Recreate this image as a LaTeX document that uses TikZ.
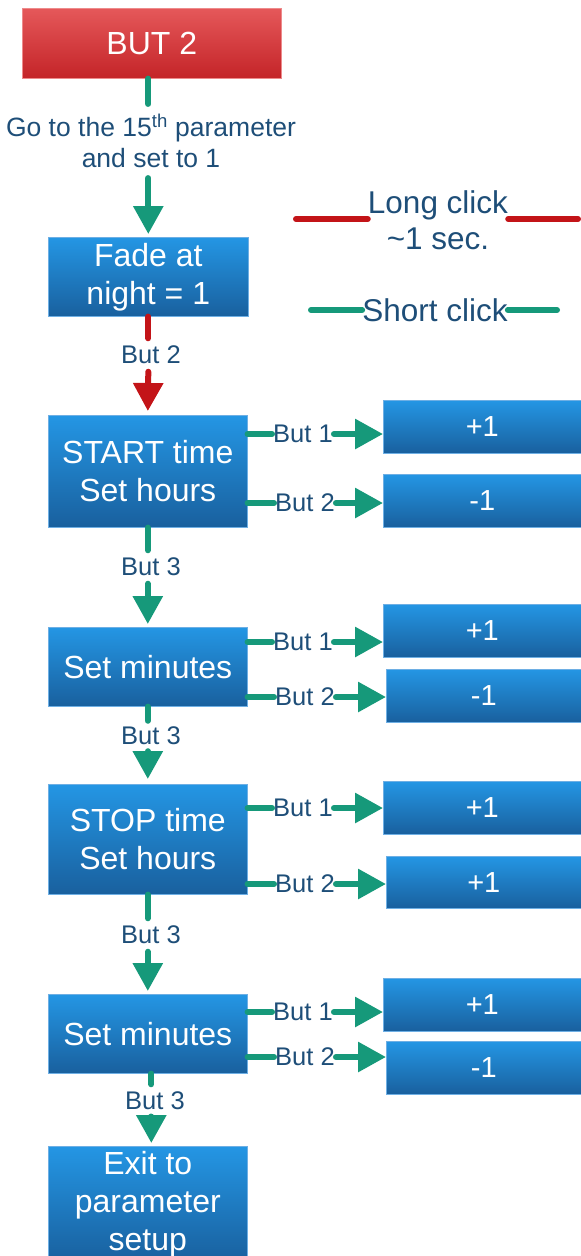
\documentclass[tikz,border=0pt]{standalone}
\usepackage{fontspec}
\setmainfont{Liberation Sans}
\usetikzlibrary{arrows.meta}
\definecolor{bluetop}{RGB}{36,150,228}
\definecolor{bluebot}{RGB}{25,96,158}
\definecolor{redtop}{RGB}{229,88,90}
\definecolor{redbot}{RGB}{196,36,40}
\definecolor{conngreen}{RGB}{22,153,122}
\definecolor{connred}{RGB}{195,20,24}
\definecolor{labblue}{RGB}{30,78,120}
\definecolor{edgeblue}{RGB}{110,175,228}
\begin{document}
\begin{tikzpicture}[x=1pt,y=-1pt,
  box/.style={draw=edgeblue, line width=0.6pt, top color=bluetop, bottom color=bluebot,
    text=white, font=\fontsize{32}{38}\selectfont, align=center, anchor=north west,
    inner sep=0pt, minimum width=199pt},
  redbox/.style={box, draw=redtop!70!white, top color=redtop, bottom color=redbot},
  valbox/.style={box, font=\fontsize{29}{34}\selectfont, minimum height=53pt},
  lab/.style={text=labblue, font=\fontsize{25.5}{31}\selectfont, inner xsep=1pt,
    inner ysep=7.5pt, align=center},
  legend/.style={text=labblue, font=\fontsize{31.5}{36}\selectfont, inner sep=0pt, align=center},
  gline/.style={draw=conngreen, line width=6pt, line cap=round},
  garrow/.style={gline, -{Triangle[width=29pt,length=28pt]}},
  rline/.style={draw=connred, line width=6pt, line cap=round},
  rarrow/.style={rline, -{Triangle[width=29pt,length=28pt]}}
]
\useasboundingbox (0,0) rectangle (581,1256);

% main column
\node[redbox, minimum width=259pt, minimum height=70pt] (but2) at (22,8) {BUT 2};
\node[box, minimum width=200pt, minimum height=79pt] (fade) at (48,237) {Fade at\\night = 1};
\node[box, minimum height=112pt] (start) at (48,415) {START time\\Set hours};
\node[box, minimum height=79pt] (min1) at (48,627) {Set minutes};
\node[box, minimum height=110pt] (stop) at (48,784) {STOP time\\Set hours};
\node[box, minimum height=79pt] (min2) at (48,994) {Set minutes};
\node[box, minimum height=116pt] (exit) at (48,1146) {Exit to\\parameter\\setup};

% value boxes
\node[valbox, minimum width=198pt] (p1) at (383,400) {+1};
\node[valbox, minimum width=198pt] (m1) at (383,474) {-1};
\node[valbox, minimum width=198pt] (p2) at (383,604) {+1};
\node[valbox, minimum width=195pt] (m2) at (386,669) {-1};
\node[valbox, minimum width=198pt] (p3) at (383,781) {+1};
\node[valbox, minimum width=195pt, minimum height=52pt] (p3b) at (386,856) {+1};
\node[valbox, minimum width=198pt] (p4) at (383,978) {+1};
\node[valbox, minimum width=195pt] (m4) at (386,1041) {-1};

% legend
\node[legend] (long) at (438,220) {Long click\\\textasciitilde1 sec.};
\coordinate (lcl) at (296,219);
\coordinate (lcr) at (578,219);
\draw[rline] (lcl) -- (lcl -| long.west);
\draw[rline] (lcr -| long.east) -- (lcr);
\node[legend] (short) at (435,310) {Short click};
\coordinate (scl) at (311,310);
\coordinate (scr) at (557,310);
\draw[gline] (scl) -- (short.west);
\draw[gline] (short.east) -- (scr);

% vertical labels
\node[lab, inner ysep=10pt, font=\fontsize{26.5}{31}\selectfont] (go) at (151,141) {Go to the 15\textsuperscript{th} parameter\\and set to 1};
\node[lab] (r2) at (151,355) {But 2};
\node[lab] (b3a) at (151,567) {But 3};
\node[lab, inner ysep=6pt] (b3b) at (151,736) {But 3};
\node[lab] (b3c) at (151,935) {But 3};
\node[lab] (b3d) at (155,1101) {But 3};

% vertical connectors
\draw[gline] (fade.north |- but2.south) -- (fade.north |- go.north);
\draw[garrow, shorten >=3pt] (fade.north |- go.south) -- (fade.north);
\draw[rline] (fade.south) -- (fade.south |- r2.north);
\draw[rarrow, shorten >=4pt] (fade.south |- r2.south) -- (start.north);
\draw[gline] (start.south) -- (start.south |- b3a.north);
\draw[garrow, shorten >=3pt] (start.south |- b3a.south) -- (min1.north);
\draw[gline] (min1.south) -- (min1.south |- b3b.north);
\draw[garrow, shorten >=5pt] (min1.south |- b3b.south) -- (stop.north);
\draw[gline] (stop.south) -- (stop.south |- b3c.north);
\draw[garrow, shorten >=3pt] (stop.south |- b3c.south) -- (min2.north);
\draw[gline] ([xshift=3.5pt]min2.south) -- ([xshift=3.5pt]min2.south |- b3d.north);
\draw[garrow, shorten >=3pt] ([xshift=3.5pt]min2.south |- b3d.south) -- ([xshift=3.5pt]exit.north);

% horizontal labels
\node[lab] (l1a) at (303,434) {But 1};
\node[lab] (l1b) at (305,503) {But 2};
\node[lab] (l2a) at (303,642) {But 1};
\node[lab] (l2b) at (305,697) {But 2};
\node[lab] (l3a) at (303,808) {But 1};
\node[lab] (l3b) at (305,884) {But 2};
\node[lab] (l4a) at (303,1012) {But 1};
\node[lab] (l4b) at (305,1057) {But 2};

% horizontal connectors
\draw[gline] (start.east |- l1a) -- (l1a.west);
\draw[garrow] (l1a.east) -- (p1.west |- l1a);
\draw[gline] (start.east |- l1b) -- (l1b.west);
\draw[garrow] (l1b.east) -- (m1.west |- l1b);
\draw[gline] (min1.east |- l2a) -- (l2a.west);
\draw[garrow] (l2a.east) -- (p2.west |- l2a);
\draw[gline] (min1.east |- l2b) -- (l2b.west);
\draw[garrow] (l2b.east) -- (m2.west |- l2b);
\draw[gline] (stop.east |- l3a) -- (l3a.west);
\draw[garrow] (l3a.east) -- (p3.west |- l3a);
\draw[gline] (stop.east |- l3b) -- (l3b.west);
\draw[garrow] (l3b.east) -- (p3b.west |- l3b);
\draw[gline] (min2.east |- l4a) -- (l4a.west);
\draw[garrow] (l4a.east) -- (p4.west |- l4a);
\draw[gline] (min2.east |- l4b) -- (l4b.west);
\draw[garrow] (l4b.east) -- (m4.west |- l4b);
\end{tikzpicture}
\end{document}
